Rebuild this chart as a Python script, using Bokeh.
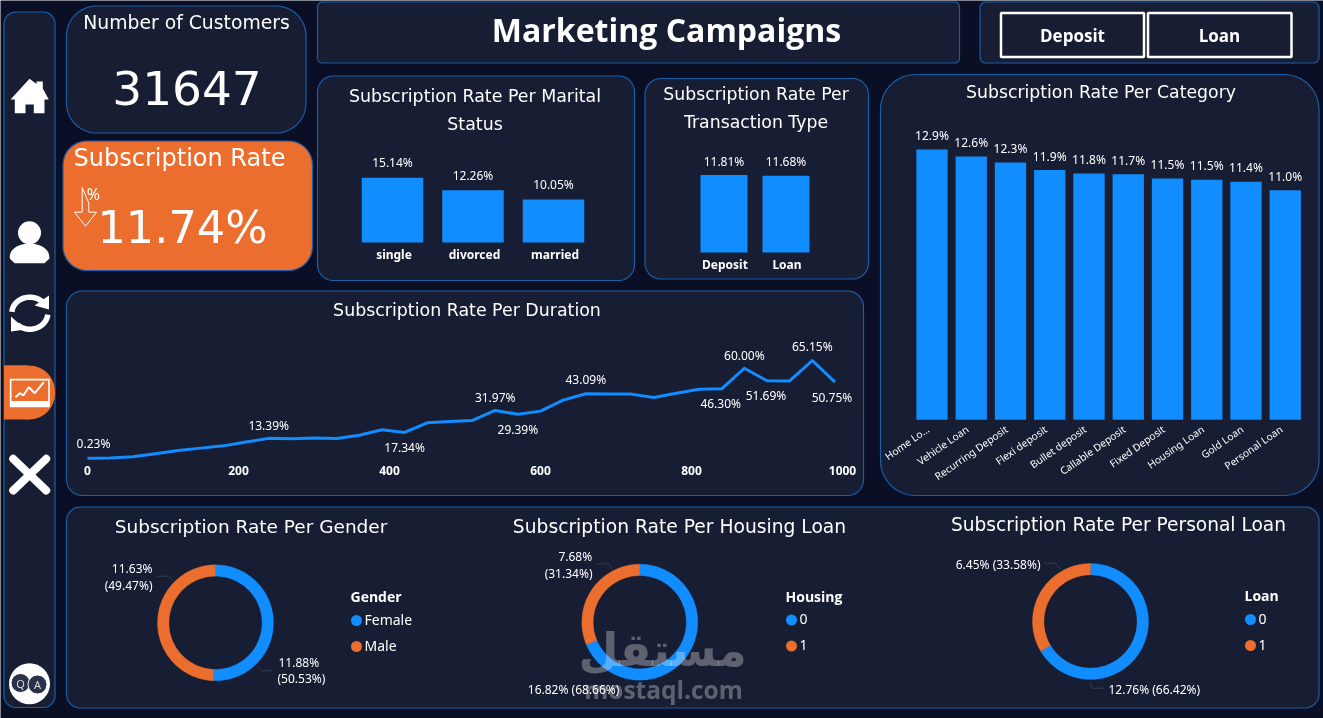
import numpy as np
from bokeh.core.properties import value
from bokeh.plotting import figure
from bokeh.models import Range1d, LinearAxis, FixedTicker
from bokeh.embed import file_html
from bokeh.resources import INLINE

# ---------- data ----------
customers = 31647
subscription_rate = 11.74
marital_labels = ["single", "divorced", "married"]
marital_rates = [15.14, 12.26, 10.05]
transaction_labels = ["Deposit", "Loan"]
transaction_rates = [11.81, 11.68]
category_labels = ["Home Lo...", "Vehicle Loan", "Recurring Deposit", "Flexi deposit", "Bullet deposit",
                   "Callable Deposit", "Fixed Deposit", "Housing Loan", "Gold Loan", "Personal Loan"]
category_rates = [12.9, 12.56, 12.28, 11.92, 11.76, 11.72, 11.52, 11.46, 11.36, 10.96]
duration_bins = [0, 30, 60, 90, 120, 150, 180, 210, 240, 270, 300, 330, 360, 390, 420, 450, 480,
                 510, 540, 570, 600, 630, 660, 690, 720, 750, 780, 810, 840, 870, 900, 930, 960, 990]
duration_rates = [0.23, 0.3, 1.1, 3.1, 5.3, 6.9, 8.4, 10.9, 13.39, 13.1, 13.7, 13.3, 15.5, 19.1, 17.34, 23.7, 24.6,
                  25.3, 31.97, 29.39, 31.5, 38.8, 43.09, 42.8, 42.8, 40.5, 43.4, 46.1, 46.30, 60.00, 51.69, 51.6,
                  65.15, 50.75]
duration_ticks = [0, 200, 400, 600, 800, 1000]
gender_labels = ["Female", "Male"]
gender_rates = [11.88, 11.63]
gender_shares = [50.53, 49.47]
housing_labels = ["0", "1"]
housing_rates = [16.82, 7.68]
housing_shares = [68.66, 31.34]
loan_labels = ["0", "1"]
loan_rates = [12.76, 6.45]
loan_shares = [66.42, 33.58]

# ---------- style ----------
W, H = 1323, 718
BG = "#0b0f25"
PANEL = "#171d33"
EDGE = "#1b5da6"
BLUE = "#118dff"
ORANGE = "#eb6e2e"
WHITE = "#ffffff"
TITLE_FONT = "DejaVu Sans"
LABEL_FONT = "Noto Sans"

p = figure(width=W, height=H, x_range=Range1d(0, W), y_range=Range1d(H, 0),
           x_axis_type=None, y_axis_type=None, toolbar_location=None, output_backend="svg",
           min_border=0, background_fill_color=BG, border_fill_color=BG, outline_line_color=None,
           styles={"position": "fixed", "left": "0px", "top": "0px"})


def rounded(x0, y0, x1, y1, r):
    xs, ys = [], []
    for cx, cy, a0 in [(x1 - r, y0 + r, -90), (x1 - r, y1 - r, 0), (x0 + r, y1 - r, 90), (x0 + r, y0 + r, 180)]:
        t = np.radians(np.linspace(a0, a0 + 90, 14))
        xs += list(cx + r * np.cos(t))
        ys += list(cy + r * np.sin(t))
    return xs, ys


def panel(x0, y0, x1, y1, r, fill=PANEL, edge=EDGE, lw=1.2):
    xs, ys = rounded(x0, y0, x1, y1, r)
    p.patch(xs, ys, fill_color=fill, line_color=edge, line_width=lw)


def txt(x, y, s, size, font=TITLE_FONT, align="center", style="normal", color=WHITE, alpha=1.0):
    p.text([x], [y - 1], [s], text_font=value(font), text_font_size=f"{size}px", text_align=align,
           text_baseline="middle", text_font_style=style, text_color=color, text_alpha=alpha)


def scale(name, px_a, val_a, px_b, val_b, horizontal):
    """Register a range whose values land on the given page pixels."""
    k = (val_b - val_a) / (px_b - px_a)
    far = W if horizontal else H
    rng = Range1d(val_a + (0 - px_a) * k, val_a + (far - px_a) * k)
    if horizontal:
        p.extra_x_ranges[name] = rng
    else:
        rng = Range1d(rng.end, rng.start)
        p.extra_y_ranges[name] = rng


def bottom_axis(xname, yname, ticks, overrides=None, standoff=7, size=12, style="bold", font=LABEL_FONT, angle=None, loc=0):
    ax = LinearAxis(x_range_name=xname, y_range_name=yname, fixed_location=loc, ticker=FixedTicker(ticks=ticks),
                    axis_line_color=None, major_tick_line_color=None, minor_tick_line_color=None,
                    major_label_text_color=WHITE, major_label_text_font=font,
                    major_label_text_font_size=f"{size}px", major_label_text_font_style=style,
                    major_label_standoff=standoff)
    if overrides:
        ax.major_label_overrides = overrides
    if angle is not None:
        ax.major_label_orientation = angle
    p.add_layout(ax, "below")


def value_labels(xs, ys, texts, xr, yr, dy):
    p.text(xs, ys, texts, x_range_name=xr, y_range_name=yr, text_font=value(LABEL_FONT), text_font_size="12px",
           text_align="center", text_baseline="middle", text_color=WHITE, y_offset=dy)


# ---------- panels ----------
panel(3.5, 11.5, 54.5, 707, 12)
panel(66, 5.5, 305.5, 132.5, 30)
panel(62.5, 140.5, 312, 270, 24, fill=ORANGE)
panel(317, 1.5, 959, 62.5, 5)
panel(979.5, 1.5, 1318.5, 62.5, 6)
panel(317, 75.5, 634, 280, 16)
panel(644.5, 78, 868, 278.5, 16)
panel(880, 74, 1318.5, 495, 35)
panel(66, 290.5, 863, 495, 16)
panel(66, 506.5, 1318.5, 707.5, 14)
panel(1000.5, 12.5, 1143.5, 56.5, 0, edge=WHITE, lw=2.5)
panel(1147.5, 12.5, 1291, 56.5, 0, edge=WHITE, lw=2.5)

# ---------- header texts ----------
txt(186, 23, "Number of Customers", 18.8)
txt(186.5, 88.5, str(customers), 47)
txt(179, 158.5, "Subscription Rate", 24)
txt(182, 228.5, f"{subscription_rate:.2f}%", 44.6)
txt(666, 30, "Marketing Campaigns", 32, font="Open Sans", style="bold")
txt(1072, 36, "Deposit", 17, font="Open Sans", style="bold")
txt(1219, 36, "Loan", 17, font="Open Sans", style="bold")
p.patch([81.7, 81.7, 74, 85, 96, 88.3, 88.3], [187, 211.7, 211.7, 225.7, 211.7, 211.7, 202.7],
        fill_color=None, line_color=WHITE, line_width=1)
txt(93, 194, "%", 16, font=LABEL_FONT)

# ---------- marital ----------
txt(474.5, 96.5, "Subscription Rate Per Marital", 17.4)
txt(474.5, 124.5, "Status", 17.4)
scale("mx", 392, 0, 472.5, 1, True)
scale("mxa", 393.5, 0, 474, 1, True)
scale("my", 242, 0, 177.36, 15.14, False)
mx = list(range(len(marital_rates)))
p.vbar(x=mx, top=marital_rates, width=61.5 / 80.5, bottom=0, x_range_name="mx", y_range_name="my", fill_color=BLUE, line_color=None)
value_labels(mx, marital_rates, [f"{v:.2f}%" for v in marital_rates], "mx", "my", -15)
bottom_axis("mxa", "my", mx, {i: s for i, s in enumerate(marital_labels)}, standoff=-3)

# ---------- transaction ----------
txt(755.5, 94.5, "Subscription Rate Per", 17.3)
txt(755.5, 122.5, "Transaction Type", 17.3)
scale("tx", 723.5, 0, 785.5, 1, True)
scale("txa", 724.5, 0, 786.5, 1, True)
scale("ty", 252, 0, 174.5, 11.81, False)
tx = list(range(len(transaction_rates)))
p.vbar(x=tx, top=transaction_rates, width=47 / 62, bottom=0, x_range_name="tx", y_range_name="ty", fill_color=BLUE, line_color=None)
value_labels(tx, transaction_rates, [f"{v:.2f}%" for v in transaction_rates], "tx", "ty", -14)
bottom_axis("txa", "ty", tx, {i: s for i, s in enumerate(transaction_labels)}, standoff=-3)

# ---------- category ----------
txt(1100.5, 92, "Subscription Rate Per Category", 17.3)
scale("cx", 931.5, 0, 970.75, 1, True)
scale("cxa", 927.5, 0, 966.75, 1, True)
scale("cy", 419.3, 0, 149, 12.9, False)
cx = list(range(len(category_rates)))
p.vbar(x=cx, top=category_rates, width=31.3 / 39.25, bottom=0, x_range_name="cx", y_range_name="cy", fill_color=BLUE, line_color=None)
value_labels(cx, category_rates, [f"{v:.1f}%" for v in category_rates], "cx", "cy", -14)
bottom_axis("cxa", "cy", cx, {i: s for i, s in enumerate(category_labels)}, standoff=2, size=10.2, style="normal", angle=np.radians(35))

# ---------- duration ----------
txt(466.5, 310, "Subscription Rate Per Duration", 17.4)
scale("dx", 87, 0, 842, 1000, True)
scale("dy", 458, 0, 360, 65.15, False)
p.line(duration_bins, duration_rates, x_range_name="dx", y_range_name="dy", line_color=BLUE, line_width=3, line_join="round")
bottom_axis("dx", "dy", duration_ticks, standoff=1)
label_offsets = {0: (6, -15), 240: (0, -13), 420: (0, 15), 540: (0, -13), 570: (0, 15), 660: (0, -14), 840: (-1, 15),
                 870: (0, -13), 900: (-1, 15), 960: (0, -14), 990: (-3, 15)}
lx = list(label_offsets)
ly = [duration_rates[duration_bins.index(b)] for b in lx]
p.text(lx, ly, [f"{v:.2f}%" for v in ly], x_range_name="dx", y_range_name="dy", text_font=value(LABEL_FONT), text_font_size="12px",
       text_align="center", text_baseline="middle", text_color=WHITE,
       x_offset=[label_offsets[b][0] for b in lx], y_offset=[label_offsets[b][1] for b in lx])


# ---------- donuts ----------
def donut(cx_, cy_, shares):
    fr = np.cumsum([0] + list(shares)) / sum(shares) * 2 * np.pi
    # page y runs downwards in the main range: clockwise from twelve o'clock on screen
    start = -np.pi / 2 + fr[:-1]
    end = -np.pi / 2 + fr[1:]
    for a, b, c in zip(start, end, [BLUE, ORANGE]):
        t = np.linspace(a, b, 120)
        xs = np.r_[cx_ + 58 * np.cos(t), cx_ + 46.5 * np.cos(t[::-1])]
        ys = np.r_[cy_ + 58 * np.sin(t), cy_ + 46.5 * np.sin(t[::-1])]
        p.patch(xs, ys, fill_color=c, line_color=c, line_width=0.3)


def legend(x, ytitle, ys, title, labels):
    txt(x, ytitle, title, 14, font="Open Sans", style="bold", align="left")
    for y, s, c in zip(ys, labels, [BLUE, ORANGE]):
        p.scatter([x + 6], [y], size=11, fill_color=c, line_color=None)
        txt(x + 14, y, s, 14, font=LABEL_FONT, align="left")


LEAD = "#363b4e"
txt(250.5, 526.5, "Subscription Rate Per Gender", 18.5)
donut(215, 622.3, gender_shares)
p.line([156.7, 168, 173], [575.7, 575.7, 580], line_color=LEAD, line_width=1)
p.line([256.7, 261.7, 272.7], [665.7, 670.3, 670.3], line_color=LEAD, line_width=1)
txt(152, 569.2, f"{gender_rates[1]:.2f}%", 12, font=LABEL_FONT, align="right")
txt(152, 585.5, f"({gender_shares[1]:.2f}%)", 12, font=LABEL_FONT, align="right")
txt(278, 663.2, f"{gender_rates[0]:.2f}%", 12, font=LABEL_FONT, align="left")
txt(277, 679.2, f"({gender_shares[0]:.2f}%)", 12, font=LABEL_FONT, align="left")
legend(350, 596.5, [620, 646], "Gender", gender_labels)

txt(679, 526.5, "Subscription Rate Per Housing Loan", 18.7)
donut(639.3, 621.7, housing_shares)
p.line([595.7, 608.3, 612.3], [563.3, 563.3, 570], line_color=LEAD, line_width=1)
txt(591.7, 557.2, f"{housing_rates[1]:.2f}%", 12, font=LABEL_FONT, align="right")
txt(592, 573.5, f"({housing_shares[1]:.2f}%)", 12, font=LABEL_FONT, align="right")
txt(527.3, 689.5, f"{housing_rates[0]:.2f}% ({housing_shares[0]:.2f}%)", 12, font=LABEL_FONT, align="left")
legend(785, 596.5, [619.5, 645.5], "Housing", housing_labels)

txt(1118, 524.5, "Subscription Rate Per Personal Loan", 18.6)
donut(1090, 621, loan_shares)
p.line([1043.3, 1055, 1060], [562.7, 562.7, 569], line_color=LEAD, line_width=1)
p.line([1090, 1090.7, 1103.3], [681.7, 687.7, 687.7], line_color=LEAD, line_width=1)
txt(1040, 565.2, f"{loan_rates[1]:.2f}% ({loan_shares[1]:.2f}%)", 12, font=LABEL_FONT, align="right")
txt(1108, 689.5, f"{loan_rates[0]:.2f}% ({loan_shares[0]:.2f}%)", 12, font=LABEL_FONT, align="left")
legend(1244, 595.5, [619, 645], "Loan", loan_labels)

# ---------- sidebar icons ----------
# home
p.patch([29, 36, 36, 42.3, 42.3, 48.3, 44, 44, 33.3, 33.3, 25, 25, 14.3, 14.3, 10],
        [78.3, 83.5, 81, 81, 88, 99, 99, 112.7, 112.7, 104, 104, 112.7, 112.7, 99, 99], fill_color=WHITE, line_color=None)
# user
p.scatter([29], [232.3], size=23, fill_color=WHITE, line_color=None)
t = np.radians(np.linspace(180, 360, 30))
p.patch(np.r_[29 + 19.7 * np.cos(t), 49, 44, 14, 9.3],
        np.r_[256 + 13 * np.sin(t), 258, 262.7, 262.7, 258], fill_color=WHITE, line_color=None)
# sync
t = np.radians(np.linspace(185, 315, 30))
p.line(29.3 + 18 * np.cos(t), 312.7 + 16 * np.sin(t), line_color=WHITE, line_width=5.5)
p.patch([48.5, 48.5, 34], [295, 309, 305], fill_color=WHITE, line_color=None)
t = np.radians(np.linspace(5, 135, 30))
p.line(29.3 + 18 * np.cos(t), 312.7 + 16 * np.sin(t), line_color=WHITE, line_width=5.5)
p.patch([10.5, 10.5, 25], [316, 331, 329], fill_color=WHITE, line_color=None)
# active chart icon
xs, ys = rounded(3.5, 365, 54.5, 419, 26)
p.patch(xs + [3.5, 3.5], ys + [365, 419], fill_color=ORANGE, line_color=None)
p.quad(left=[3.5], right=[28], top=[365], bottom=[419], fill_color=ORANGE, line_color=None)
p.quad(left=[9.3], right=[49.3], top=[378.3], bottom=[406.7], fill_color=WHITE, line_color=None)
p.quad(left=[11], right=[47.7], top=[380], bottom=[400.5], fill_color=ORANGE, line_color=None)
p.line([15, 19.3, 22.7, 28.3, 34.3, 43.3], [396.7, 392.7, 395, 386.7, 392.7, 381.7], line_color=WHITE, line_width=2)
# close
p.line([12.7, 45.7], [458.3, 490], line_color=WHITE, line_width=8, line_cap="round")
p.line([45.7, 12.7], [458.3, 490], line_color=WHITE, line_width=8, line_cap="round")
# Q&A
p.scatter([29], [683.3], size=41, fill_color=WHITE, line_color=None)
p.scatter([20, 37], [682.5, 684], size=19, fill_color="#2b3148", line_color=WHITE, line_width=1)
txt(20, 683.5, "Q", 11, font=LABEL_FONT, color="#d7d9e0")
txt(37, 685, "A", 11, font=LABEL_FONT, color="#d7d9e0")

# ---------- site watermark, as in the reference ----------
txt(662, 650, "مستقل", 46, font="DejaVu Sans", style="bold", color="#ffffff", alpha=0.3)
txt(663, 690, "mostaql.com", 24.5, font="Open Sans", style="bold", color="#ffffff", alpha=0.3)

open("out.html", "w").write(file_html(p, INLINE))
